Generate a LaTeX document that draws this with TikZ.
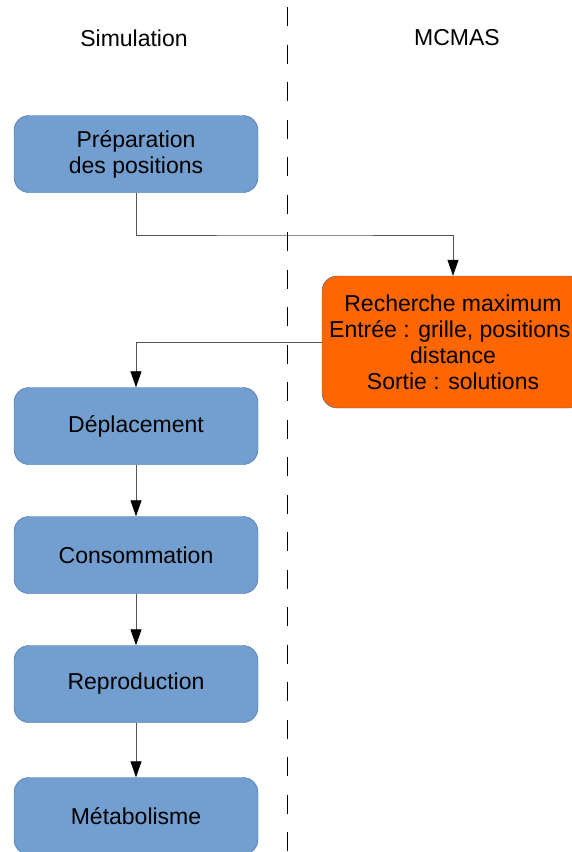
\documentclass[tikz,border=0pt]{standalone}
\usepackage{fontspec}
\setmainfont{Liberation Sans}
\usetikzlibrary{arrows.meta,positioning}

\definecolor{boxblue}{HTML}{729FCF}
\definecolor{boxline}{HTML}{3465A4}
\definecolor{boxorange}{HTML}{FF6600}
\definecolor{wire}{HTML}{555555}

\tikzset{
    stage/.style={rectangle, rounded corners=15pt, draw=boxline, fill=boxblue,
        minimum width=244pt, minimum height=77pt, align=center,
        font=\fontsize{23}{26}\selectfont, inner sep=0pt},
    search/.style={stage, fill=boxorange, minimum width=262pt, minimum height=132pt},
    flow/.style={draw=wire, line width=0.8pt, -{Triangle[length=16pt,width=11pt,color=black]}},
    header/.style={font=\fontsize{23}{26}\selectfont},
}

\begin{document}
\begin{tikzpicture}[x=1pt,y=-1pt]
        \useasboundingbox (0,0) rectangle (572,852);

        % Separation
        \draw[line width=1pt, dash pattern=on 19pt off 18.5pt] (287,7) -- (287,852);

        % Headers
        \node[header] (simu) at (134,38) {Simulation};
        \node[header] (mcmas) at (457,38) {MCMAS};

        % Boxes
        \node[stage] (prep) at (136,154) {Préparation\\des positions};
        \node[search] (recherche) at (453,342) {Recherche maximum\\Entrée : grille, positions,\\distance\\Sortie : solutions};
        \node[stage] (depl) at (136,426) {Déplacement};
        \node[stage] (conso) at (136,555) {Consommation};
        \node[stage] (repro) at (136,684) {Reproduction};
        \node[stage] (meta) at (136,816) {Métabolisme};

        % Arrows
        \draw[flow] (prep.south) |- (295,235) -| (recherche.north);
        \draw[flow] (recherche.west) -| (depl.north);
        \draw[flow] (depl) -- (conso);
        \draw[flow] (conso) -- (repro);
        \draw[flow] (repro) -- (meta);
\end{tikzpicture}
\end{document}
